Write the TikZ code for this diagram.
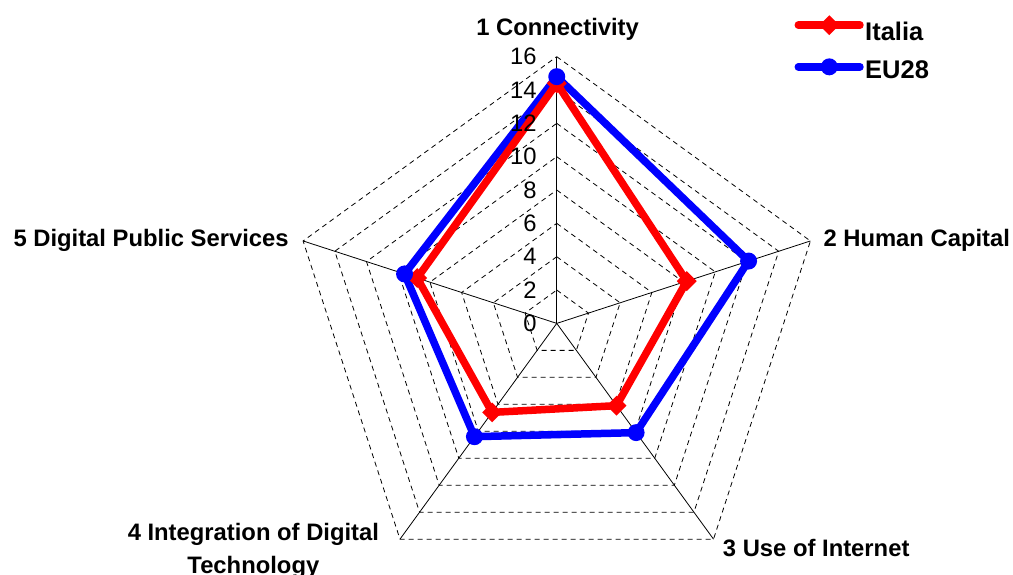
\documentclass[tikz,border=0pt]{standalone}
\usepackage{fontspec}
\setmainfont{Liberation Sans}
\usetikzlibrary{shapes.geometric}

\tikzset{
  ring/.style={dash pattern=on 5pt off 4pt, line width=0.8pt},
  axisline/.style={line width=0.8pt},
  ticklabel/.style={anchor=east, inner sep=0pt, font=\fontsize{23.8}{28}\selectfont},
  catlabel/.style={inner sep=0pt, font=\bfseries\fontsize{23.8}{33}\selectfont},
  legtext/.style={anchor=base west, inner sep=0pt, font=\bfseries\fontsize{25.5}{30}\selectfont},
  itline/.style={draw=red, line width=7.5pt},
  euline/.style={draw=blue, line width=7.5pt},
  itmark/.style={diamond, fill=red, inner sep=0pt, minimum size=20pt},
  eumark/.style={circle, fill=blue, inner sep=0pt, minimum size=17pt}
}

\begin{document}
\begin{tikzpicture}[x=16.67pt,y=16.67pt]
\useasboundingbox (-33.40,-15.04) rectangle (27.37,19.40);
% grid
\foreach \r in {2,4,...,16}
  \draw[ring] (90:\r) -- (18:\r) -- (-54:\r) -- (-126:\r) -- (162:\r) -- cycle;
\coordinate (o) at (0,0);
\foreach \a [count=\i] in {90,18,-54,-126,162}
{
  \coordinate (v\i) at (\a:16);
  \draw[axisline] (o) -- (v\i);
}
% axis names
\node[catlabel,anchor=base] (c1) at (0.05,17.30) {1 Connectivity};
\node[catlabel,anchor=base west] (c2) at (15.99,4.6) {2 Human Capital};
\node[catlabel,anchor=base west] (c3) at (9.96,-13.96) {3 Use of Internet};
\node[catlabel,anchor=base,align=center] (c4) at (-18.2,-14.98) {4 Integration of Digital\\Technology};
\node[catlabel,anchor=base west] (c5) at (-32.6,4.6) {5 Digital Public Services};
% data
\foreach \a/\v [count=\i] in {90/14.4,18/8.2,-54/6.1,-126/6.6,162/8.8}
  \coordinate (it\i) at (\a:\v);
\foreach \a/\v [count=\i] in {90/14.8,18/12.1,-54/8.1,-126/8.4,162/9.6}
  \coordinate (eu\i) at (\a:\v);
\draw[euline] (eu1) -- (eu2) -- (eu3) -- (eu4) -- (eu5) -- cycle;
\draw[itline] (it1) -- (it2) -- (it3) -- (it4) -- (it5) -- cycle;
\foreach \i in {1,...,5}
  \node[itmark] (itm\i) at (it\i) {};
\foreach \i in {1,...,5}
  \node[eumark] (eum\i) at (eu\i) {};
% scale numbers on top
\foreach \v in {0,2,...,16}
  \node[ticklabel] (t\v) at (-1.2,\v) {\v};
% legend
\coordinate (itL) at (14.49,17.89);
\coordinate (itR) at (18.19,17.89);
\draw[itline,line cap=round] (itL) -- (itR);
\node[itmark] (itkey) at (16.35,17.89) {};
\node[legtext] (ittext) at (18.49,17.0) {Italia};
\coordinate (euL) at (14.49,15.39);
\coordinate (euR) at (18.19,15.39);
\draw[euline,line cap=round] (euL) -- (euR);
\node[eumark] (eukey) at (16.35,15.39) {};
\node[legtext] (eutext) at (18.49,14.70) {EU28};
\end{tikzpicture}
\end{document}
